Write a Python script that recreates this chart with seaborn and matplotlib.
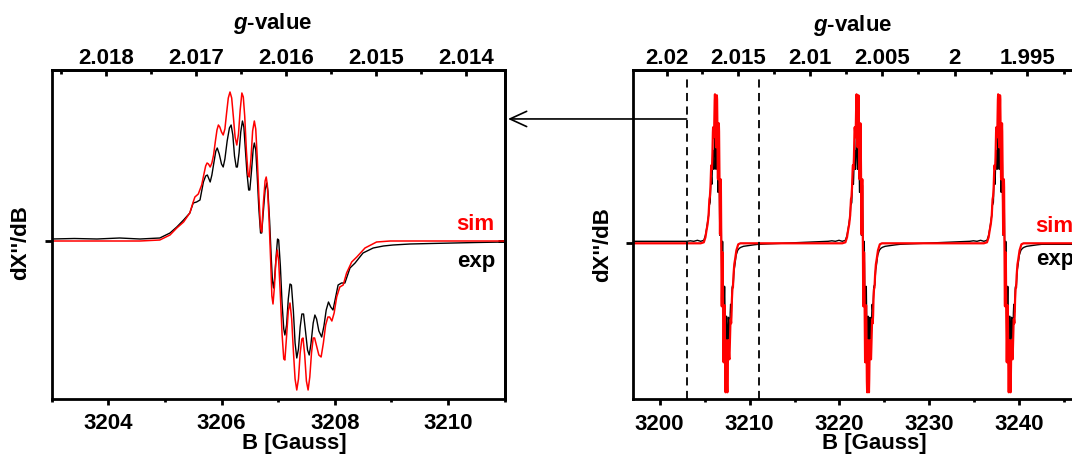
import numpy as np
import pandas as pd
import matplotlib
matplotlib.use("Agg")
import matplotlib.pyplot as plt
import seaborn as sns
from matplotlib.patches import ConnectionPatch

# ---------------- data ----------------
# first hyperfine line (zoomed in the left panel), field in Gauss
sim_B = [3203.00, 3203.50, 3204.00, 3204.56, 3204.91, 3205.09, 3205.21, 3205.33, 3205.44, 3205.50,
         3205.53, 3205.59, 3205.65, 3205.69, 3205.72, 3205.745, 3205.77, 3205.80, 3205.83, 3205.86,
         3205.89, 3205.92, 3205.945, 3205.97, 3206.00, 3206.03, 3206.06, 3206.09, 3206.12, 3206.15,
         3206.18, 3206.21, 3206.24, 3206.27, 3206.30, 3206.33, 3206.36, 3206.385, 3206.41, 3206.44,
         3206.47, 3206.49, 3206.52, 3206.55, 3206.58, 3206.605, 3206.63, 3206.66, 3206.69, 3206.71,
         3206.74, 3206.77, 3206.79, 3206.81, 3206.84, 3206.87, 3206.89, 3206.91, 3206.935, 3206.96,
         3206.985, 3207.01, 3207.04, 3207.07, 3207.10, 3207.12, 3207.15, 3207.18, 3207.21, 3207.24,
         3207.27, 3207.30, 3207.33, 3207.36, 3207.39, 3207.42, 3207.44, 3207.47, 3207.50, 3207.53,
         3207.56, 3207.59, 3207.62, 3207.645, 3207.68, 3207.72, 3207.76, 3207.80, 3207.84, 3207.88,
         3207.91, 3207.95, 3207.99, 3208.035, 3208.09, 3208.15, 3208.21, 3208.30, 3208.39, 3208.535,
         3208.74, 3208.98, 3209.33, 3210.00, 3211.00]
sim_y = [0.00, 0.00, 0.00, 0.00, 0.01, 0.06, 0.13, 0.19, 0.28, 0.39,
         0.44, 0.47, 0.56, 0.67, 0.75, 0.78, 0.77, 0.74, 0.78, 0.86,
         0.99, 1.11, 1.16, 1.14, 1.09, 1.06, 1.12, 1.28, 1.43, 1.49,
         1.43, 1.24, 1.04, 0.96, 1.07, 1.31, 1.48, 1.44, 1.25, 0.90,
         0.66, 0.64, 0.82, 1.10, 1.20, 1.12, 0.85, 0.45, 0.13, 0.09,
         0.38, 0.60, 0.64, 0.56, 0.22, -0.22, -0.55, -0.63, -0.46, -0.20,
         -0.09, -0.20, -0.54, -0.93, -1.18, -1.19, -0.95, -0.70, -0.62, -0.78,
         -1.10, -1.38, -1.49, -1.38, -1.12, -0.98, -0.97, -1.14, -1.40, -1.49,
         -1.36, -1.12, -0.97, -0.97, -1.05, -1.14, -1.16, -1.02, -0.84, -0.76,
         -0.76, -0.80, -0.72, -0.56, -0.46, -0.44, -0.32, -0.21, -0.16, -0.07,
         -0.01, 0.00, 0.00, 0.00, 0.00]

exp_B = [3203.00, 3203.40, 3203.80, 3204.20, 3204.56, 3204.91, 3205.09, 3205.21, 3205.33, 3205.44,
         3205.50, 3205.56, 3205.62, 3205.68, 3205.72, 3205.75, 3205.80, 3205.83, 3205.87, 3205.90,
         3205.925, 3205.96, 3206.00, 3206.03, 3206.06, 3206.10, 3206.14, 3206.17, 3206.20, 3206.23,
         3206.26, 3206.28, 3206.31, 3206.34, 3206.37, 3206.395, 3206.42, 3206.45, 3206.48, 3206.50,
         3206.53, 3206.56, 3206.58, 3206.605, 3206.63, 3206.66, 3206.69, 3206.71, 3206.74, 3206.77,
         3206.80, 3206.82, 3206.85, 3206.88, 3206.90, 3206.92, 3206.94, 3206.97, 3206.99, 3207.01,
         3207.04, 3207.07, 3207.10, 3207.12, 3207.15, 3207.18, 3207.21, 3207.235, 3207.27, 3207.30,
         3207.33, 3207.36, 3207.39, 3207.42, 3207.45, 3207.48, 3207.52, 3207.55, 3207.58, 3207.62,
         3207.65, 3207.68, 3207.72, 3207.77, 3207.81, 3207.85, 3207.89, 3207.93, 3207.97, 3208.01,
         3208.06, 3208.12, 3208.18, 3208.27, 3208.36, 3208.50, 3208.68, 3208.86, 3209.03, 3209.33,
         3209.70, 3210.10, 3210.50, 3211.00]
exp_y = [0.02, 0.025, 0.02, 0.03, 0.02, 0.03, 0.08, 0.14, 0.21, 0.28,
         0.38, 0.39, 0.41, 0.59, 0.65, 0.66, 0.59, 0.66, 0.80, 0.90,
         0.93, 0.87, 0.77, 0.74, 0.82, 1.00, 1.13, 1.16, 1.06, 0.85,
         0.74, 0.74, 0.88, 1.09, 1.20, 1.14, 0.93, 0.68, 0.51, 0.51,
         0.70, 0.92, 0.98, 0.91, 0.66, 0.32, 0.08, 0.08, 0.30, 0.51,
         0.58, 0.50, 0.20, -0.18, -0.40, -0.47, -0.36, -0.12, 0.02, 0.01,
         -0.25, -0.62, -0.88, -0.94, -0.84, -0.58, -0.43, -0.44, -0.70, -1.02,
         -1.17, -1.08, -0.86, -0.73, -0.73, -0.88, -1.09, -1.14, -1.03, -0.82,
         -0.74, -0.78, -0.90, -0.96, -0.85, -0.69, -0.61, -0.66, -0.69, -0.58,
         -0.44, -0.42, -0.42, -0.27, -0.22, -0.12, -0.07, -0.05, -0.04, -0.03,
         -0.025, -0.02, -0.015, -0.01]

# positions of the three hyperfine lines relative to the first one (G)
line_shift_G = [0.0, 15.75, 31.5]
# full sweep limits of the right panel (G), zoom window shown on the left
sweep_B = [3197.0, 3250.0]
zoom_window = [3203.0, 3211.0]

# g = C / B   (C = h*nu/mu_B in G)
g_const = 6465.6

left_B_major = [3204, 3206, 3208, 3210]
left_B_minor = [3203, 3205, 3207, 3209, 3211]
left_g_major = [2.018, 2.017, 2.016, 2.015, 2.014]
left_g_labels = ["2.018", "2.017", "2.016", "2.015", "2.014"]
left_g_minor = [2.0185, 2.0175, 2.0165, 2.0155, 2.0145, 2.0135]

right_B_major = [3200, 3210, 3220, 3230, 3240]
right_B_minor = [3205, 3215, 3225, 3235, 3245]
right_g_major = [2.02, 2.015, 2.01, 2.005, 2.0, 1.995]
right_g_labels = ["2.02", "2.015", "2.01", "2.005", "2", "1.995"]
right_g_minor = [2.0225, 2.0175, 2.0125, 2.0075, 2.0025, 1.9975, 1.9925]

# ---------------- build tables ----------------
left_df = pd.concat([
    pd.DataFrame({"B": exp_B, "signal": exp_y, "trace": "exp"}),
    pd.DataFrame({"B": sim_B, "signal": sim_y, "trace": "sim"}),
], ignore_index=True)

def full_sweep(Bs, ys, first_val, last_val):
    B_all = [sweep_B[0]]
    y_all = [first_val]
    for s in line_shift_G:
        B_all += [b + s for b in Bs]
        y_all += list(ys)
    B_all.append(sweep_B[1])
    y_all.append(last_val)
    return B_all, y_all

rB_exp, ry_exp = full_sweep(exp_B, exp_y, exp_y[0], exp_y[-1])
rB_sim, ry_sim = full_sweep(sim_B, sim_y, sim_y[0], sim_y[-1])
right_df = pd.concat([
    pd.DataFrame({"B": rB_exp, "signal": ry_exp, "trace": "exp"}),
    pd.DataFrame({"B": rB_sim, "signal": ry_sim, "trace": "sim"}),
], ignore_index=True)

# ---------------- style ----------------
sns.set_theme(style="white")
plt.rcParams.update({
    "font.family": ["Liberation Sans", "DejaVu Sans"],
    "font.weight": "bold",
    "font.size": 16,
    "axes.edgecolor": "black",
    "axes.linewidth": 2.0,
    "xtick.color": "black",
    "ytick.color": "black",
    "text.color": "black",
    "mathtext.fontset": "custom",
    "mathtext.it": "Liberation Sans:italic:bold",
    "mathtext.rm": "Liberation Sans:bold",
})

W, H = 1072, 454
fig = plt.figure(figsize=(W / 100, H / 100), dpi=100)

def rect(l, t, r, b):
    return [l / W, 1 - b / H, (r - l) / W, (b - t) / H]

axL = fig.add_axes(rect(51.7, 70, 504.5, 398.5))
axR = fig.add_axes(rect(632.7, 70, 632.7 + (sweep_B[1] - sweep_B[0]) * 8.99, 399.3))

def b2g(b):
    b = np.asarray(b, dtype=float)
    with np.errstate(divide="ignore", invalid="ignore"):
        return g_const / b

def g2b(g):
    g = np.asarray(g, dtype=float)
    with np.errstate(divide="ignore", invalid="ignore"):
        return g_const / g

for ax, df, lw_sim in [(axL, left_df, 1.1), (axR, right_df, 1.6)]:
    sns.lineplot(data=df[df.trace == "exp"], x="B", y="signal", ax=ax, color="black",
                 lw=1.0, estimator=None, sort=False, legend=False)
    sns.lineplot(data=df[df.trace == "sim"], x="B", y="signal", ax=ax, color="#ff0000",
                 lw=lw_sim, estimator=None, sort=False, legend=False)
    ax.set_xlabel("")
    ax.set_ylabel("")
    for sp in ax.spines.values():
        sp.set_visible(True)
        sp.set_linewidth(2.0)
        sp.set_color("black")
    ax.set_yticks([0])
    ax.set_yticklabels([])
    ax.tick_params(axis="y", which="major", left=True, right=False, direction="out",
                   length=5, width=2)
    ax.tick_params(axis="x", which="both", bottom=True, top=False, direction="out",
                   width=2, labelsize=16, pad=6)
    ax.tick_params(axis="x", which="major", length=4.5)
    ax.tick_params(axis="x", which="minor", length=2.5)

# left panel
axL.set_xlim(zoom_window)
axL.set_ylim(-1.575, 1.71)
axL.set_xticks(left_B_major)
axL.set_xticklabels([str(v) for v in left_B_major])
axL.set_xticks(left_B_minor, minor=True)
secL = axL.secondary_xaxis("top", functions=(b2g, g2b))
secL.set_xticks(left_g_major, labels=left_g_labels)
secL.set_xticks(left_g_minor, minor=True)
secL.tick_params(which="both", direction="in", width=2, labelsize=16, pad=1)
secL.tick_params(which="major", length=4.5)
secL.tick_params(which="minor", length=3)
secL.spines["top"].set_linewidth(2.0)
secyL = axL.secondary_yaxis("right")
secyL.set_yticks([0])
secyL.set_yticklabels([])
secyL.tick_params(direction="in", length=5, width=2)
secyL.spines["right"].set_linewidth(2.0)

# right panel
axR.set_xlim(sweep_B)
axR.set_ylim(-1.56, 1.733)
axR.set_xticks(right_B_major)
axR.set_xticklabels([str(v) for v in right_B_major])
axR.set_xticks(right_B_minor, minor=True)
secR = axR.secondary_xaxis("top", functions=(b2g, g2b))
secR.set_xticks(right_g_major, labels=right_g_labels)
secR.set_xticks(right_g_minor, minor=True)
secR.tick_params(which="both", direction="in", width=2, labelsize=16, pad=1)
secR.tick_params(which="major", length=4.5)
secR.tick_params(which="minor", length=3)
secR.spines["top"].set_linewidth(2.0)

for xb in zoom_window:
    axR.axvline(xb, ymin=0, ymax=0.975, color="black", lw=1.3, ls=(0, (4.5, 3)))

# connector arrow from the zoom window to the left panel
con = ConnectionPatch(xyA=(zoom_window[0], 1.243), coordsA=axR.transData,
                      xyB=(1.0077, 0.851), coordsB=axL.transAxes,
                      arrowstyle="->,head_length=12,head_width=5.5", mutation_scale=1,
                      lw=1.2, color="black", shrinkA=0, shrinkB=0)
fig.add_artist(con)

# texts
def ftext(x, y, s, **kw):
    fig.text(x / W, 1 - y / H, s, ha=kw.pop("ha", "center"), va=kw.pop("va", "center"),
             fontsize=kw.pop("fontsize", 16), fontweight="bold", **kw)

ftext(273, 24, r"$g$-value")
ftext(853, 26, r"$g$-value")
ftext(294, 443, "B [Gauss]")
ftext(874, 443, "B [Gauss]")
ftext(21, 243, "dX''/dB", rotation=90)
ftext(603, 245, "dX''/dB", rotation=90)
ftext(475, 224, "sim", color="#ff0000")
ftext(476, 262, "exp")
ftext(1035, 227, "sim", color="#ff0000", ha="left")
ftext(1036, 260, "exp", ha="left")

fig.savefig("out.png", dpi=100)
